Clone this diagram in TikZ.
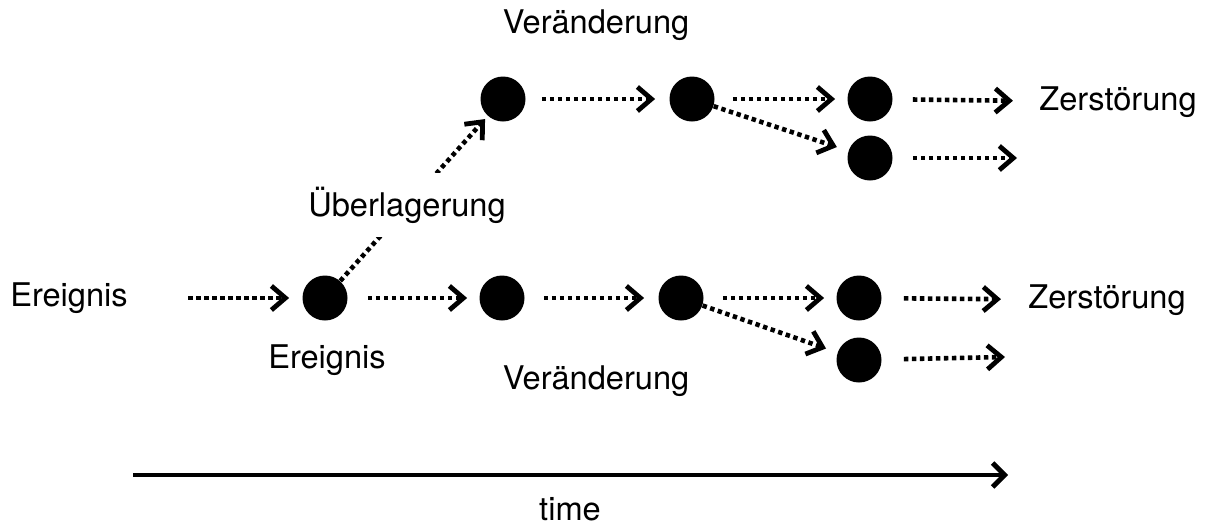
\documentclass[tikz,border=0pt]{standalone}
\usepackage{fontspec}
\setmainfont{TeX Gyre Heros}
\usetikzlibrary{positioning,arrows.meta}
\tikzset{
  evt/.style={circle,fill=black,minimum size=22.5pt,inner sep=0pt},
  flow/.style={-{Straight Barb[length=7pt,width=12pt,line width=2.4pt]},line width=2.3pt,
    dash pattern=on 2.2pt off 1.8pt,shorten <=10pt,shorten >=6pt},
  timeln/.style={-{Straight Barb[length=6pt,width=12pt,line width=2.4pt]},line width=2.2pt},
  lbl/.style={font=\fontsize{16.3}{19}\selectfont,inner sep=0pt},
}
\begin{document}
\begin{tikzpicture}[x=0.5pt,y=-0.5pt]
  \useasboundingbox (0,0) rectangle (1205,526);
  % lower chain
  \node[lbl] (e0) at (69,298) {Ereignis};
  \node[evt] (b1) at (325,298) {};
  \node[evt] (b2) at (502,298) {};
  \node[evt] (b3) at (681,298) {};
  \node[evt] (b4) at (859,298) {};
  \node[evt] (b5) at (859,360) {};
  \node[lbl] (zb) at (1107,300) {Zerstörung};
  \coordinate (fb) at (1005,357);
  \node[lbl] at (327,360) {Ereignis};
  \node[lbl] at (596,381) {Veränderung};
  % upper chain
  \node[evt] (t1) at (503,99) {};
  \node[evt] (t2) at (692,99) {};
  \node[evt] (t3) at (870,99) {};
  \node[evt] (t4) at (870,158) {};
  \node[lbl] (zt) at (1118,102) {Zerstörung};
  \coordinate (ft) at (1017,158);
  \node[lbl] at (596,25) {Veränderung};

  \draw[flow,shorten <=30pt,shorten >=6.5pt] (e0) -- (b1);
  \draw[flow] (b1) -- (b2);
  \draw[flow,shorten <=9.5pt,shorten >=7pt] (b2) -- (b3);
  \draw[flow,shorten <=9.5pt] (b3) -- (b4);
  \draw[flow,shorten <=11pt,shorten >=13.5pt] (b4) -- (zb);
  \draw[flow,shorten <=0pt] (b3) -- (b5);
  \draw[flow,shorten <=11pt,shorten >=0pt] (b5) -- (fb);

  \draw[flow,shorten <=0pt,shorten >=2pt] (b1) -- (t1);
  \draw[flow,shorten <=8pt,shorten >=7pt] (t1) -- (t2);
  \draw[flow,shorten <=9pt] (t2) -- (t3);
  \draw[flow,shorten <=10pt,shorten >=13pt] (t3) -- (zt);
  \draw[flow,shorten <=0pt] (t2) -- (t4);
  \draw[flow,shorten <=10pt,shorten >=0pt] (t4) -- (ft);
  % label sits on top of the rising line
  \node[lbl,fill=white,inner xsep=0pt,inner ysep=7pt] at (407,205) {Überlagerung};

  % time axis
  \coordinate (t0) at (133,475);
  \coordinate (tn) at (1008,475);
  \draw[timeln] (t0) -- (tn);
  \node[lbl] at (570,509) {time};
\end{tikzpicture}
\end{document}
